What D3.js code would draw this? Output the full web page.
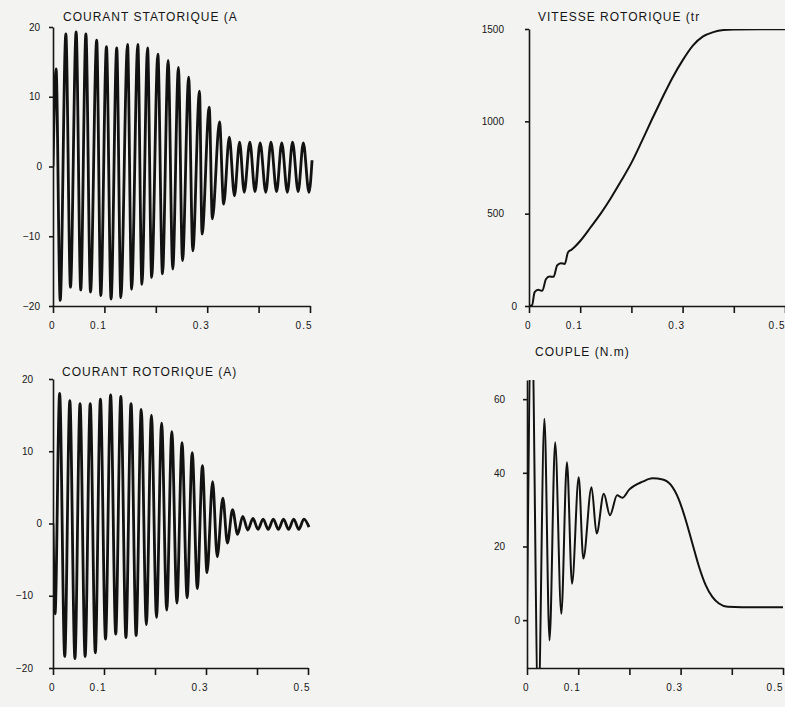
<!DOCTYPE html>
<html lang="fr">
<head>
<meta charset="UTF-8">
<title>Démarrage moteur asynchrone</title>
<script src="https://d3js.org/d3.v7.min.js"></script>
<style>
    body { margin: 0; background: #f3f3f1; }
    svg text { font-family: "Liberation Sans", Arial, sans-serif; fill: #161616; }
    .title { font-size: 12px; letter-spacing: 1px; }
    .tick text { font-size: 10px; }
    .x-axis .tick text { letter-spacing: 1px; }
    .domain, .tick line { stroke: #161616; stroke-width: 1.6px; }
    .curve { fill: none; stroke: #121212; stroke-linejoin: round; }
</style>
</head>
<body>
<div id="chart"></div>
<script>
// time axis (s)
const xTicks = [0, 0.1, 0.2, 0.3, 0.4, 0.5];
const xLabels = [0, 0.1, 0.3, 0.5];

// courant statorique : extrema (t in s, value in A)
const statorT = [0, 0.006, 0.014, 0.025, 0.034, 0.045, 0.054, 0.064, 0.073, 0.085, 0.093,
    0.104, 0.113, 0.124, 0.132, 0.145, 0.153, 0.165, 0.173, 0.184, 0.192, 0.204, 0.213,
    0.224, 0.233, 0.244, 0.252, 0.264, 0.272, 0.285, 0.29, 0.304, 0.31, 0.324, 0.332,
    0.343, 0.353, 0.363, 0.372, 0.383, 0.393, 0.403, 0.414, 0.424, 0.435, 0.445, 0.456,
    0.466, 0.477, 0.487, 0.498, 0.504];
const statorV = [0, 14, -19.2, 19, -17.3, 19.3, -17.7, 19, -18, 18.1, -18.5,
    17.2, -19, 17, -18.8, 17.5, -17.6, 17.5, -16.9, 17, -15.9, 16.1, -15.4,
    15.2, -14.7, 14.2, -13.5, 12.8, -12.1, 10.8, -9.7, 8.5, -7.5, 6.4, -5.4,
    4.2, -4.2, 3.5, -3.7, 3.5, -3.6, 3.4, -3.7, 3.5, -3.6, 3.4, -3.7,
    3.5, -3.6, 3.4, -3.7, 0.9];

// vitesse rotorique (tr/min)
const speedT = [0, 0.006, 0.011, 0.018, 0.026, 0.033, 0.04, 0.048, 0.055, 0.062, 0.07,
    0.076, 0.083, 0.09, 0.1, 0.12, 0.14, 0.16, 0.18, 0.2, 0.22, 0.24, 0.26, 0.28, 0.3,
    0.32, 0.34, 0.36, 0.38, 0.4, 0.45, 0.5];
const speedV = [0, 5, 75, 88, 82, 145, 160, 158, 220, 232, 228,
    290, 305, 322, 352, 425, 500, 585, 678, 775, 890, 1010, 1125, 1235, 1330,
    1410, 1460, 1483, 1494, 1497, 1498, 1498];

// courant rotorique (A)
const rotorT = [0, 0.004, 0.013, 0.023, 0.033, 0.043, 0.053, 0.063, 0.073, 0.083, 0.093,
    0.103, 0.113, 0.123, 0.133, 0.143, 0.153, 0.163, 0.173, 0.183, 0.193, 0.203, 0.213,
    0.223, 0.233, 0.243, 0.253, 0.263, 0.273, 0.283, 0.293, 0.302, 0.313, 0.322, 0.333,
    0.342, 0.352, 0.362, 0.372, 0.382, 0.392, 0.402, 0.412, 0.422, 0.432, 0.442, 0.452,
    0.462, 0.472, 0.482, 0.492, 0.502];
const rotorV = [0, -12.5, 18, -18.4, 17, -18.7, 16.6, -18.4, 16.6, -17.9, 17.2,
    -16, 17.8, -15.3, 17.6, -15.8, 16.6, -15.5, 15.8, -14, 15, -13, 13.9,
    -12, 12.7, -11, 11.2, -10.3, 9.8, -9, 8, -6.8, 5.8, -4.6, 3.5,
    -2.7, 1.9, -1.5, 1.0, -0.9, 0.7, -0.8, 0.6, -0.8, 0.6, -0.8, 0.6,
    -0.8, 0.6, -0.8, 0.6, -0.5];

// couple (N.m)
const torqueT = [0, 0.009, 0.022, 0.034, 0.044, 0.055, 0.067, 0.078, 0.088, 0.101, 0.11,
    0.126, 0.136, 0.15, 0.162, 0.176, 0.186, 0.2, 0.226, 0.245, 0.265, 0.281, 0.297,
    0.31, 0.323, 0.336, 0.349, 0.362, 0.375, 0.392, 0.42, 0.5];
const torqueV = [0, 85, -25, 54.7, -5.5, 48.3, 1.7, 42.9, 9.9, 38.8, 16.7,
    36.1, 23.5, 34.3, 28.5, 33.9, 33.2, 35.5, 37.6, 38.5, 38.2, 36.7, 32.6,
    27.2, 20.8, 14.5, 9.5, 6.3, 4.5, 3.6, 3.5, 3.5];

const currentTicks = [-20, -10, 0, 10, 20];
const speedTicks = [0, 500, 1000, 1500];
const torqueTicks = [0, 20, 40, 60];

const W = 785, H = 707;
const svg = d3.select("#chart").append("svg")
    .attr("width", W).attr("height", H);

svg.append("rect").attr("width", W).attr("height", H).attr("fill", "#f3f3f1");

const panels = [
    { title: "COURANT STATORIQUE (A", t: statorT, v: statorV, yDomain: [-20, 20], yTicks: currentTicks,
      xRange: [53, 310], yRange: [306, 27], titleX: 63, titleY: 21, gap: 13, gap0: 11, stroke: 2.8 },
    { title: "VITESSE ROTORIQUE (tr", t: speedT, v: speedV, yDomain: [0, 1500], yTicks: speedTicks,
      xRange: [529, 785], yRange: [306, 29], titleX: 538, titleY: 21, gap: 25, gap0: 12, stroke: 2 },
    { title: "COURANT ROTORIQUE (A)", t: rotorT, v: rotorV, yDomain: [-20, 20], yTicks: currentTicks,
      xRange: [53, 308], yRange: [668, 379], titleX: 62, titleY: 376, gap: 20, gap0: 11, stroke: 2.8 },
    { title: "COUPLE (N.m)", t: torqueT, v: torqueV, yDomain: [-13, 65.2], yTicks: torqueTicks,
      xRange: [527, 783], yRange: [668, 380], titleX: 535, titleY: 356, gap: 22, gap0: 7, stroke: 2 }
];

panels.forEach((p, i) => {
    const x = d3.scaleLinear().domain([0, 0.5]).range(p.xRange);
    const y = d3.scaleLinear().domain(p.yDomain).range(p.yRange);
    const g = svg.append("g");

    // clip so the torque spikes stop at the frame like on the plot
    const clipId = "clip" + i;
    svg.append("clipPath").attr("id", clipId)
        .append("rect")
        .attr("x", p.xRange[0]).attr("y", p.yRange[1])
        .attr("width", p.xRange[1] - p.xRange[0] + 4)
        .attr("height", p.yRange[0] - p.yRange[1]);

    const pts = p.t.map((t, k) => [t, p.v[k]]);
    const line = d3.line()
        .x(d => x(d[0]))
        .y(d => y(d[1]))
        .curve(d3.curveMonotoneX);

    g.append("path")
        .datum(pts)
        .attr("class", "curve")
        .attr("clip-path", `url(#${clipId})`)
        .attr("stroke-width", p.stroke)
        .attr("d", line);

    // x axis
    const xAxis = d3.axisBottom(x)
        .tickValues(xTicks)
        .tickSize(7)
        .tickSizeOuter(0)
        .tickPadding(9)
        .tickFormat(d => xLabels.includes(d) ? d3.format("")(d) : "");
    g.append("g")
        .attr("class", "x-axis")
        .attr("transform", `translate(0,${p.yRange[0]})`)
        .call(xAxis)
        .selectAll("text")
        .attr("text-anchor", "end")
        .attr("dx", d => x(d) > W - 8 ? "0px" : "2px");

    // y axis
    const yAxis = d3.axisLeft(y)
        .tickValues(p.yTicks)
        .tickSize(4)
        .tickSizeOuter(0)
        .tickPadding(p.gap - 4)
        .tickFormat(d3.format(""));
    const ya = g.append("g")
        .attr("transform", `translate(${p.xRange[0]},0)`)
        .call(yAxis);
    ya.selectAll(".tick text")
        .filter(d => d === 0)
        .attr("x", -p.gap0);

    g.append("text")
        .attr("class", "title")
        .attr("x", p.titleX)
        .attr("y", p.titleY)
        .text(p.title);
});
</script>
</body>
</html>
